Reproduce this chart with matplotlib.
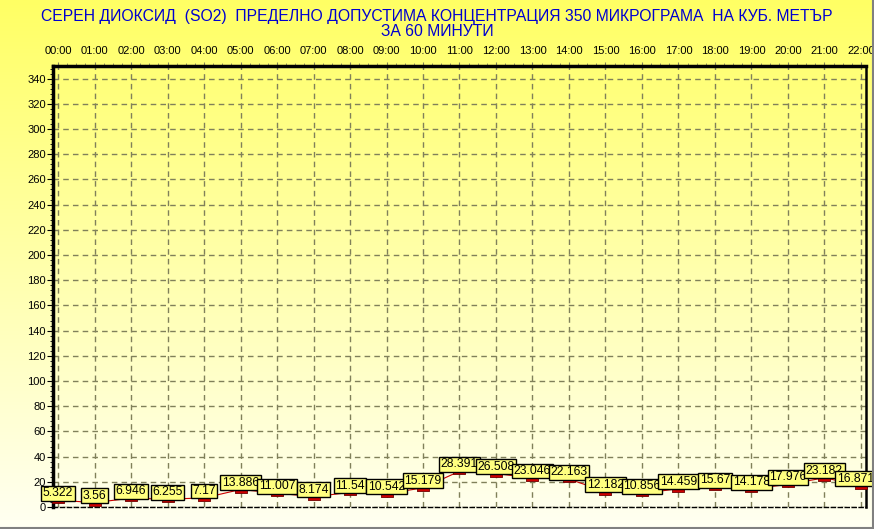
import matplotlib.pyplot as plt
import numpy as np
from matplotlib.ticker import MultipleLocator
from matplotlib.lines import Line2D

# SO2 hourly values (micrograms per cubic metre)
hours = ["00:00", "01:00", "02:00", "03:00", "04:00", "05:00", "06:00", "07:00",
         "08:00", "09:00", "10:00", "11:00", "12:00", "13:00", "14:00", "15:00",
         "16:00", "17:00", "18:00", "19:00", "20:00", "21:00", "22:00"]
so2 = [5.322, 3.56, 6.946, 6.255, 7.17, 13.886, 11.007, 8.174, 11.54, 10.542,
       15.179, 28.391, 26.508, 23.046, 22.163, 12.182, 10.856, 14.459, 15.67,
       14.178, 17.976, 23.182, 16.871]
value_labels = ["5.322", "3.56", "6.946", "6.255", "7.17", "13.886", "11.007", "8.174",
                "11.54", "10.542", "15.179", "28.391", "26.508", "23.046", "22.163",
                "12.182", "10.856", "14.459", "15.67", "14.178", "17.976", "23.182",
                "16.871"]

title = ("СЕРЕН ДИОКСИД  (SO2)  ПРЕДЕЛНО ДОПУСТИМА КОНЦЕНТРАЦИЯ 350 МИКРОГРАМА  НА КУБ. МЕТЪР\n"
         "ЗА 60 МИНУТИ")

plt.rcParams['font.family'] = ['Liberation Sans', 'DejaVu Sans']

W, H = 874, 529
fig = plt.figure(figsize=(W / 100, H / 100), dpi=100)

# yellow gradient background
bg = fig.add_axes([0, 0, 1, 1], zorder=-10)
grad = np.linspace(0, 1, 256).reshape(-1, 1)
top_col = np.array([255, 255, 100]) / 255
bot_col = np.array([255, 255, 242]) / 255
img = top_col[None, None, :] * (1 - grad[:, :, None]) + bot_col[None, None, :] * grad[:, :, None]
bg.imshow(img, aspect='auto', extent=[0, 1, 0, 1])
bg.set_axis_off()

# border on right and bottom
fig.add_artist(Line2D([0, 1], [1.5 / H, 1.5 / H], color='#808080', lw=1.5))
fig.add_artist(Line2D([1 - 1.5 / W, 1 - 1.5 / W], [0, 1], color='#808080', lw=1.5))

ax = fig.add_axes([53 / W, 1 - 507 / H, (866 - 53) / W, (507 - 66) / H])
ax.set_facecolor('none')

x = np.arange(len(hours))
ax.plot(x, so2, color='#CC0000', lw=0.8, zorder=3)
rect = [(-1, -0.6), (1, -0.6), (1, 0.6), (-1, 0.6), (-1, -0.6)]
ax.plot(x, so2, linestyle='none', marker=rect, markersize=8,
        markerfacecolor='#D00000', markeredgecolor='#700000', markeredgewidth=0.6,
        zorder=4, clip_on=False)

for i, (xi, yi, lab) in enumerate(zip(x, so2, value_labels)):
    dx = -4 if i == len(x) - 1 else 0
    ax.annotate(lab, (xi, yi), xytext=(dx, 5), textcoords='offset points',
                ha='center', va='center', fontsize=8.7, color='black',
                bbox=dict(boxstyle='square,pad=0.12', fc='#FFFF80', ec='black', lw=1),
                zorder=5 + i, annotation_clip=False)

ax.set_xlim(-0.137, 22.137)
ax.set_ylim(0, 350)

ax.xaxis.tick_top()
ax.set_xticks(x)
ax.set_xticklabels(hours, fontsize=8)
ax.xaxis.set_minor_locator(MultipleLocator(0.25))
ax.tick_params(axis='x', which='major', direction='out', length=3, color='#80805A', pad=4)
ax.tick_params(axis='x', which='minor', direction='out', length=2, color='#80805A')

ax.set_yticks(np.arange(0, 341, 20))
ax.yaxis.set_minor_locator(MultipleLocator(4))
ax.tick_params(axis='y', which='major', direction='out', length=4, color='black',
               labelsize=8, pad=1)
ax.tick_params(axis='y', which='minor', direction='out', length=2, color='black')

ax.grid(True, which='major', color='#80805A', linestyle=(0, (4, 3)), linewidth=1)

ax.spines['left'].set_linewidth(2.5)
ax.spines['top'].set_linewidth(2.5)
ax.spines['right'].set_linewidth(1.8)
ax.spines['bottom'].set_linewidth(1)
ax.spines['bottom'].set_linestyle((0, (3, 2)))

fig.text(0.5, 1 - 24 / H, title, ha='center', va='center', fontsize=11.3,
         color='#0000D0', linespacing=1.0)

fig.savefig('out.png', dpi=100)
